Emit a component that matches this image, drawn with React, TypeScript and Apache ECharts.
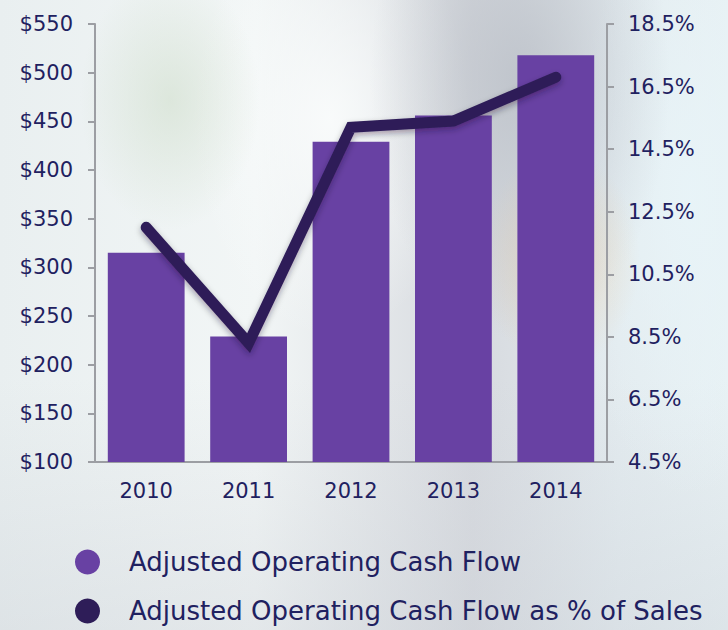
import React, { useEffect, useRef } from "react";
import * as echarts from "echarts";

const years = ["2010", "2011", "2012", "2013", "2014"];
const cashFlow = [315, 229, 429, 456, 518];
const cashFlowPctSales = [12.0, 8.3, 15.2, 15.4, 16.8];
const seriesNames = [
  "Adjusted Operating Cash Flow",
  "Adjusted Operating Cash Flow as % of Sales",
];

const TEXT = "#1f2160";
const AXIS = "#9c9ea3";
const FONT = "DejaVu Sans";

export default function App() {
  const ref = useRef<HTMLDivElement>(null);
  useEffect(() => {
    if (!ref.current) return;
    const chart = echarts.init(ref.current, undefined, { renderer: "svg" });
    chart.setOption({
      animation: false,
      backgroundColor: "transparent",
      textStyle: { fontFamily: FONT },
      grid: { left: 95, right: 121, top: 24, bottom: 168, containLabel: false },
      legend: {
        orient: "vertical",
        left: 75,
        top: 549,
        padding: 0,
        itemWidth: 25,
        itemHeight: 25,
        itemGap: 23,
        icon: "circle",
        data: seriesNames,
        textStyle: {
          color: TEXT,
          fontSize: 26,
          lineHeight: 26,
          fontFamily: FONT,
          padding: [0, 0, 0, 24],
        },
      },
      xAxis: {
        type: "category",
        data: years,
        axisLine: { show: true, lineStyle: { color: AXIS, width: 2 } },
        axisTick: { show: false },
        axisLabel: { color: TEXT, fontSize: 21, fontFamily: FONT, margin: 18 },
      },
      yAxis: [
        {
          type: "value",
          min: 100,
          max: 550,
          interval: 50,
          position: "left",
          axisLine: { show: true, lineStyle: { color: AXIS, width: 2 } },
          axisTick: { show: true, length: 7, lineStyle: { color: AXIS, width: 2 } },
          splitLine: { show: false },
          axisLabel: {
            color: TEXT,
            fontSize: 21,
            fontFamily: FONT,
            margin: 22,
            formatter: (v: number) => "$" + v,
          },
        },
        {
          type: "value",
          min: 4.5,
          max: 18.5,
          interval: 2,
          position: "right",
          axisLine: { show: true, lineStyle: { color: AXIS, width: 2 } },
          axisTick: { show: true, length: 7, lineStyle: { color: AXIS, width: 2 } },
          splitLine: { show: false },
          axisLabel: {
            color: TEXT,
            fontSize: 21,
            fontFamily: FONT,
            margin: 21,
            formatter: (v: number) => v.toFixed(1) + "%",
          },
        },
      ],
      series: [
        {
          name: seriesNames[0],
          type: "bar",
          data: cashFlow,
          barCategoryGap: "25%",
          itemStyle: { color: "#6841a3" },
        },
        {
          name: seriesNames[1],
          type: "line",
          yAxisIndex: 1,
          data: cashFlowPctSales,
          symbol: "none",
          itemStyle: { color: "#2e1d58" },
          lineStyle: {
            color: "#2e1d58",
            width: 11,
            cap: "round",
            join: "miter",
            shadowColor: "rgba(20,10,40,0.35)",
            shadowBlur: 6,
            shadowOffsetY: 3,
          },
          z: 3,
        },
      ],
    });
    return () => chart.dispose();
  }, []);

  const bg = [
    "radial-gradient(ellipse 90px 130px at 170px 100px, rgba(205,220,200,0.55), rgba(205,220,200,0) 100%)",
    "radial-gradient(ellipse 80px 110px at 560px 260px, rgba(230,205,170,0.6), rgba(230,205,170,0) 100%)",
    "radial-gradient(ellipse 150px 260px at 520px 80px, rgba(185,190,198,0.8), rgba(185,190,198,0) 100%)",
    "radial-gradient(ellipse 120px 300px at 690px 200px, rgba(232,244,248,0.9), rgba(232,244,248,0) 100%)",
    "radial-gradient(ellipse 140px 220px at 330px 120px, rgba(250,252,252,0.9), rgba(250,252,252,0) 100%)",
    "linear-gradient(180deg, rgba(0,0,0,0) 60%, rgba(200,205,212,0.35) 100%)",
    "linear-gradient(90deg, #e9eff0 0%, #f2f6f6 35%, #d7dadf 65%, #e3ebef 85%, #e8f1f4 100%)",
  ].join(", ");

  return (
    <div
      style={{
        position: "fixed",
        left: 0,
        top: 0,
        width: 728,
        height: 630,
        background: bg,
      }}
    >
      <div ref={ref} style={{ width: 728, height: 630 }} />
    </div>
  );
}
